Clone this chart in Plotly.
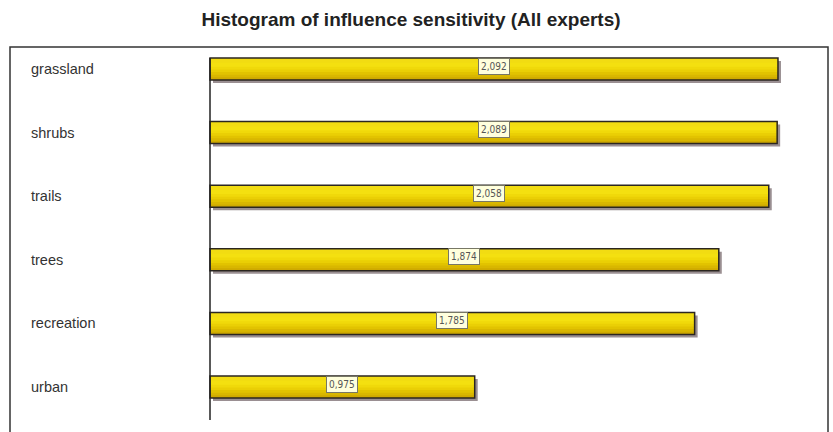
import plotly.graph_objects as go

# Influence sensitivity per land-cover factor (all experts)
categories = ["grassland", "shrubs", "trails", "trees", "recreation", "urban"]
sensitivity = [2.092, 2.089, 2.058, 1.874, 1.785, 0.975]
value_labels = [f"{v:.3f}".replace(".", ",") for v in sensitivity]

W, H = 833, 432
ML, MR, MT, MB = 10, 5, 47, 0
plot_w = W - ML - MR
plot_h = H - MT - MB

px_per_unit_x = 271.5          # horizontal scale
px_per_cat = 63.6              # vertical spacing between bars
axis_px = 200                  # zero line position inside the plot area
x_range = [-axis_px / px_per_unit_x, (plot_w - axis_px) / px_per_unit_x]
y_top = -22 / px_per_cat
y_range = [y_top + plot_h / px_per_cat, y_top]

bar_w = 22 / px_per_cat
shadow_dx = 3 / px_per_unit_x
shadow_dy = 3 / px_per_cat

fig = go.Figure()

# drop shadow
fig.add_trace(go.Bar(
    y=categories, x=sensitivity, base=shadow_dx, orientation="h",
    width=bar_w, offset=-bar_w / 2 + shadow_dy,
    marker=dict(color="rgba(120,105,110,0.75)", line=dict(width=0)),
    hoverinfo="skip", showlegend=False,
))

# vertical gradient: stacked fills from dark (full height) to bright (top part)
gradient = [
    (1.00, "#CFAA00"),
    (0.88, "#D9B700"),
    (0.76, "#E2C300"),
    (0.64, "#EACF05"),
    (0.52, "#F0D90A"),
    (0.40, "#F4E010"),
    (0.22, "#F2DC12"),
]
for frac, col in gradient:
    fig.add_trace(go.Bar(
        y=categories, x=sensitivity, orientation="h",
        width=bar_w * frac, offset=-bar_w / 2,
        marker=dict(color=col, line=dict(width=0)),
        hoverinfo="skip", showlegend=False,
    ))

# outline
fig.add_trace(go.Bar(
    y=categories, x=sensitivity, orientation="h",
    width=bar_w, offset=-bar_w / 2,
    marker=dict(color="rgba(0,0,0,0)", line=dict(color="#2b2620", width=1.5)),
    name="sensitivity", showlegend=False,
))

# value boxes centred on each bar
for cat, v, lab in zip(categories, sensitivity, value_labels):
    fig.add_annotation(
        x=v / 2, y=cat, xref="x", yref="y", text=lab, showarrow=False,
        font=dict(family="DejaVu Sans Condensed, Liberation Sans", size=10, color="#555555"),
        bgcolor="#FFFFDD", bordercolor="#777766", borderwidth=1, borderpad=2,
        yshift=3,
    )

# category names on the left
for cat in categories:
    fig.add_annotation(
        x=19 / plot_w, y=cat, xref="paper", yref="y", text=cat, showarrow=False,
        xanchor="left", yanchor="middle",
        font=dict(family="Liberation Sans, Arial", size=14.5, color="#333333"),
    )

# vertical axis line at zero
fig.add_shape(type="line", xref="x", yref="y", x0=0, x1=0,
              y0=-bar_w / 2, y1=y_top + (420 - MT) / px_per_cat,
              line=dict(color="#222222", width=1.5))

# outer frame
fig.add_shape(type="rect", xref="paper", yref="paper", x0=0, x1=1, y0=-0.1, y1=1,
              line=dict(color="#333333", width=1.5), fillcolor="rgba(0,0,0,0)")

fig.update_layout(
    width=W, height=H,
    margin=dict(l=ML, r=MR, t=MT, b=MB),
    paper_bgcolor="white", plot_bgcolor="white",
    barmode="overlay",
    title=dict(
        text="<b>Histogram of influence sensitivity (All experts)</b>",
        x=411 / W, xanchor="center", y=1 - 19 / H, yanchor="middle",
        xref="container", yref="container",
        font=dict(family="Liberation Sans, Arial", size=19, color="#222222"),
    ),
    xaxis=dict(range=x_range, visible=False, fixedrange=True),
    yaxis=dict(range=y_range, visible=False, type="category",
               categoryorder="array", categoryarray=categories, fixedrange=True),
)

fig.write_html("out.html")
